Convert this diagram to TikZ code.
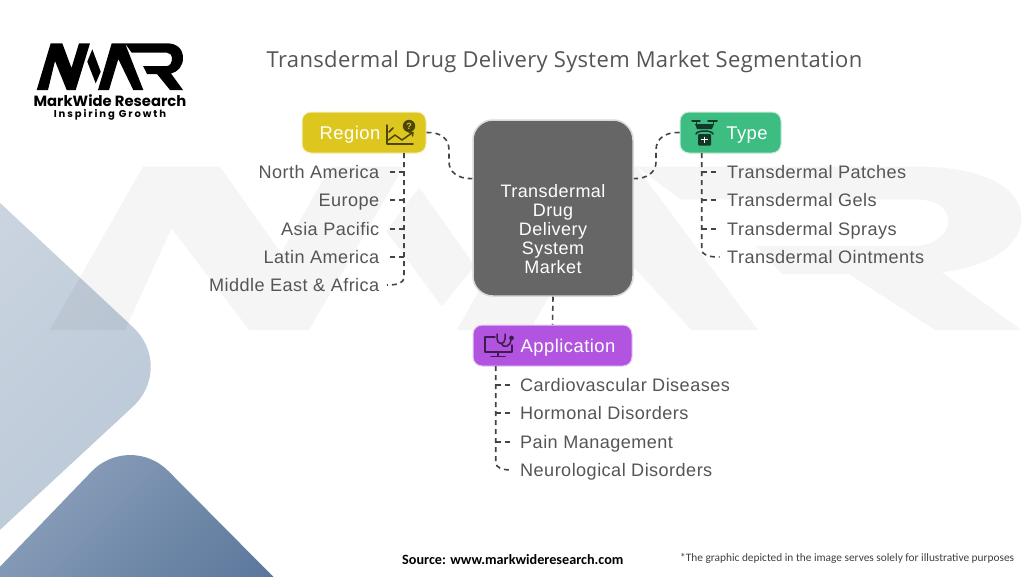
\documentclass[tikz,border=0pt]{standalone}
\usepackage{fontspec}
\setmainfont{Liberation Sans}
\newfontfamily\labfont[LetterSpace=2.5]{Liberation Sans}
\newfontfamily\titlefont[LetterSpace=1.5]{Open Sans}
\newfontfamily\logofont{Poppins}
\newfontfamily\srcfont{Carlito}
\usetikzlibrary{calc}
\definecolor{txt}{HTML}{555555}
\definecolor{lnk}{HTML}{444444}
\definecolor{yel}{HTML}{DDC71E}
\definecolor{grn}{HTML}{3DBD82}
\definecolor{pur}{HTML}{B254E0}
\definecolor{ctr}{HTML}{666666}
\newcommand{\logoletters}{
  (36.7,90) -- (50.7,43.3) -- (62.3,43.3) -- (71.5,68) -- (79,43.3) -- (90,43.3) -- (75.7,90) -- (66.7,90) -- (55,61) -- (48,90) -- cycle
  (92.3,49.3) -- (87.3,61.7) -- (95.7,83.3) -- (100.7,71.7) -- cycle
  (98,90) -- (111.7,43.3) -- (125,43.3) -- (143.3,90) -- (133.3,90) -- (118.3,59) -- (109,90) -- cycle
  (125,43.3) -- (167,43.3) .. controls (178,43.3) and (183,50) .. (183,58) .. controls (183,66) and (178,72) .. (171,73.5) -- (183,90) -- (170,90) -- (157,74) -- (147,74) -- (143,66) -- (167,66) .. controls (170,66) and (172,62) .. (172,59) .. controls (172,55) and (170,52.7) .. (167,52.7) -- (131.7,52.7) -- cycle
}
\tikzset{
  conn/.style={draw=lnk,line width=1.6pt,dash pattern=on 5pt off 4pt},
  lab/.style={font=\labfont\fontsize{18.1}{20}\selectfont,text=txt,text height=13pt,text depth=0pt,inner ysep=0pt,inner xsep=7.5pt},
  head/.style={rounded corners=9pt,minimum height=41pt,inner sep=0pt,font=\labfont\fontsize{18.4}{20}\selectfont,text=white,text height=13pt,text depth=0pt},
  icon/.style={line width=1.5pt,line cap=round,line join=round}
}
\begin{document}
\begin{tikzpicture}[x=1pt,y=-1pt]
\useasboundingbox (0,0) rectangle (1024,576);
\fill[white] (0,0) rectangle (1024,576);
\begin{scope}
\clip (0,0) rectangle (1024,576);
% background shapes
\shade[left color={rgb,255:red,206;green,215;blue,226},right color={rgb,255:red,184;green,198;blue,214},shading angle=45,rounded corners=58pt]
  (-100,109.4) -- (175.6,367) -- (-100,622.6) -- cycle;
\shade[left color={rgb,255:red,146;green,166;blue,192},right color={rgb,255:red,84;green,113;blue,150},shading angle=45,rounded corners=55pt]
  (-60,629) -- (129.6,432) -- (340,644) -- cycle;
% watermark
\fill[black,opacity=0.04,shift={(-193.7,15)},xscale=6.64,yscale=3.5] \logoletters;
\end{scope}
% logo
\fill[black] \logoletters;
\node[font=\logofont\bfseries\fontsize{14.8}{16}\selectfont,inner sep=0pt] (brand) at (110,101) {MarkWide Research};
\node[font=\logofont\bfseries\fontsize{10}{12}\selectfont,inner sep=0pt] (tag) at (110,114.5) {\addfontfeature{LetterSpace=19}Inspiring Growth};
% title
\node[font=\titlefont\fontsize{22}{24}\selectfont,text=txt,inner sep=0pt] (title) at (564.5,61.5) {Transdermal Drug Delivery System Market Segmentation};
% centre
\node[fill=ctr,draw=ctr!25!white,line width=1.5pt,rounded corners=20pt,minimum width=160pt,minimum height=176pt,inner sep=0pt,
  align=center,text=white,font=\labfont\fontsize{18}{19}\selectfont] (center) at (553,208)
  {\rule{0pt}{56pt}Transdermal\\Drug\\Delivery\\System\\Market};
% headers
\node[head,fill=yel,draw=yel!30!white,line width=1pt,minimum width=124pt] (region) at (364,132.5) {Region\hspace*{28pt}};
\node[head,fill=grn,draw=grn!30!white,line width=1pt,minimum width=101pt] (type) at (730.5,132.5) {\hspace*{33pt}Type};
\node[head,fill=pur,draw=pur!30!white,line width=1pt,minimum width=159pt] (app) at (552.5,345.5) {\hspace*{31pt}Application};
% labels
\foreach \n/\y/\t in {r1/172/North America,r2/200/Europe,r3/229/Asia Pacific,r4/257/Latin America,r5/285/Middle East \& Africa}
  \node[lab,anchor=east] (\n) at (387,\y) {\t};
\foreach \n/\y/\t in {t1/172/Transdermal Patches,t2/200/Transdermal Gels,t3/229/Transdermal Sprays,t4/257/Transdermal Ointments}
  \node[lab,anchor=west] (\n) at (719.5,\y) {\t};
\foreach \n/\y/\t in {a1/385/Cardiovascular Diseases,a2/413/Hormonal Disorders,a3/442/Pain Management,a4/470/Neurological Disorders}
  \node[lab,anchor=west] (\n) at (512.5,\y) {\t};
% connectors
\draw[conn] (region.east) .. controls (440,132) and (449,138) .. (449,150) -- (449,162) .. controls (449,172) and (458,179) .. (center.160);
\draw[conn] (type.west) .. controls (666,132) and (656,138) .. (656,150) -- (656,162) .. controls (656,172) and (647,179) .. (center.20);
\draw[conn] (center.south) -- (app.north);
\coordinate (rb) at (404,153);
\coordinate (tb) at (701.7,153);
\coordinate (ab) at (495.7,366);
\draw[conn] (rb) -- (404,277) .. controls (404,283) and (398,285) .. (r5.east);
\draw[conn] (tb) -- (701.7,249) .. controls (701.7,255) and (708,257) .. (t4.west);
\draw[conn] (ab) -- (495.7,462) .. controls (495.7,468) and (502,470) .. (a4.west);
\foreach \n in {r1,r2,r3,r4} \draw[conn] (rb |- \n.east) -- (\n.east);
\foreach \n in {t1,t2,t3} \draw[conn] (tb |- \n.west) -- (\n.west);
\foreach \n in {a1,a2,a3} \draw[conn] (ab |- \n.west) -- (\n.west);
% region icon
\begin{scope}[icon,draw=yel!35!black]
\draw (387,125) -- (387,144) -- (413,144);
\draw (388.5,140) -- (395,135) -- (402,140) -- (412,133);
\draw (409,132.5) -- (413,132.5) -- (412.5,136);
\draw (389,132) -- (393,128);
\fill[yel!35!black] (409,126) circle (6.2pt);
\node[font=\bfseries\fontsize{9}{9}\selectfont,text=yel,inner sep=0pt] (qm) at (409,126) {?};
\end{scope}
% type icon
\begin{scope}[icon,draw=black!70!grn]
\draw (692,121) -- (700,121) (708,121) -- (717,121);
\draw[line width=1pt] (696,121) -- (696,124) (713,121) -- (713,124);
\fill[black!70!grn] (695,124) -- (714,124) -- (712,129) -- (697,129) -- cycle;
\draw (696,134) .. controls (697,130) and (712,130) .. (713,134);
\fill[black!70!grn,rounded corners=1pt] (698,134) rectangle (711,145.5);
\draw[white,line width=1.3pt,line cap=butt] (704.5,136.5) -- (704.5,143) (701,139.8) -- (708,139.8);
\end{scope}
% application icon
\begin{scope}[icon,draw=black!65!pur]
\draw (495,337) -- (485,337) -- (485,352) -- (512,352) -- (512,345);
\draw[line width=2pt,line cap=butt] (498,352) -- (498,356);
\draw (491,356.5) -- (505,356.5);
\draw (497,334) -- (497,339) .. controls (497,345) and (505,345) .. (505,339) -- (505,334);
\draw (501,343) .. controls (503,349) and (511,347) .. (511,339);
\fill[black!65!pur] (511.5,338) circle (2.4pt);
\end{scope}
% footer
\node[font=\srcfont\bfseries\fontsize{14.2}{16}\selectfont,inner sep=0pt,anchor=west] (src) at (402,560) {Source: www.markwideresearch.com};
\node[font=\srcfont\fontsize{11.36}{14}\selectfont,text=black!75,inner sep=0pt,anchor=west] (note) at (680,558) {*The graphic depicted in the image serves solely for illustrative purposes};
\end{tikzpicture}
\end{document}
